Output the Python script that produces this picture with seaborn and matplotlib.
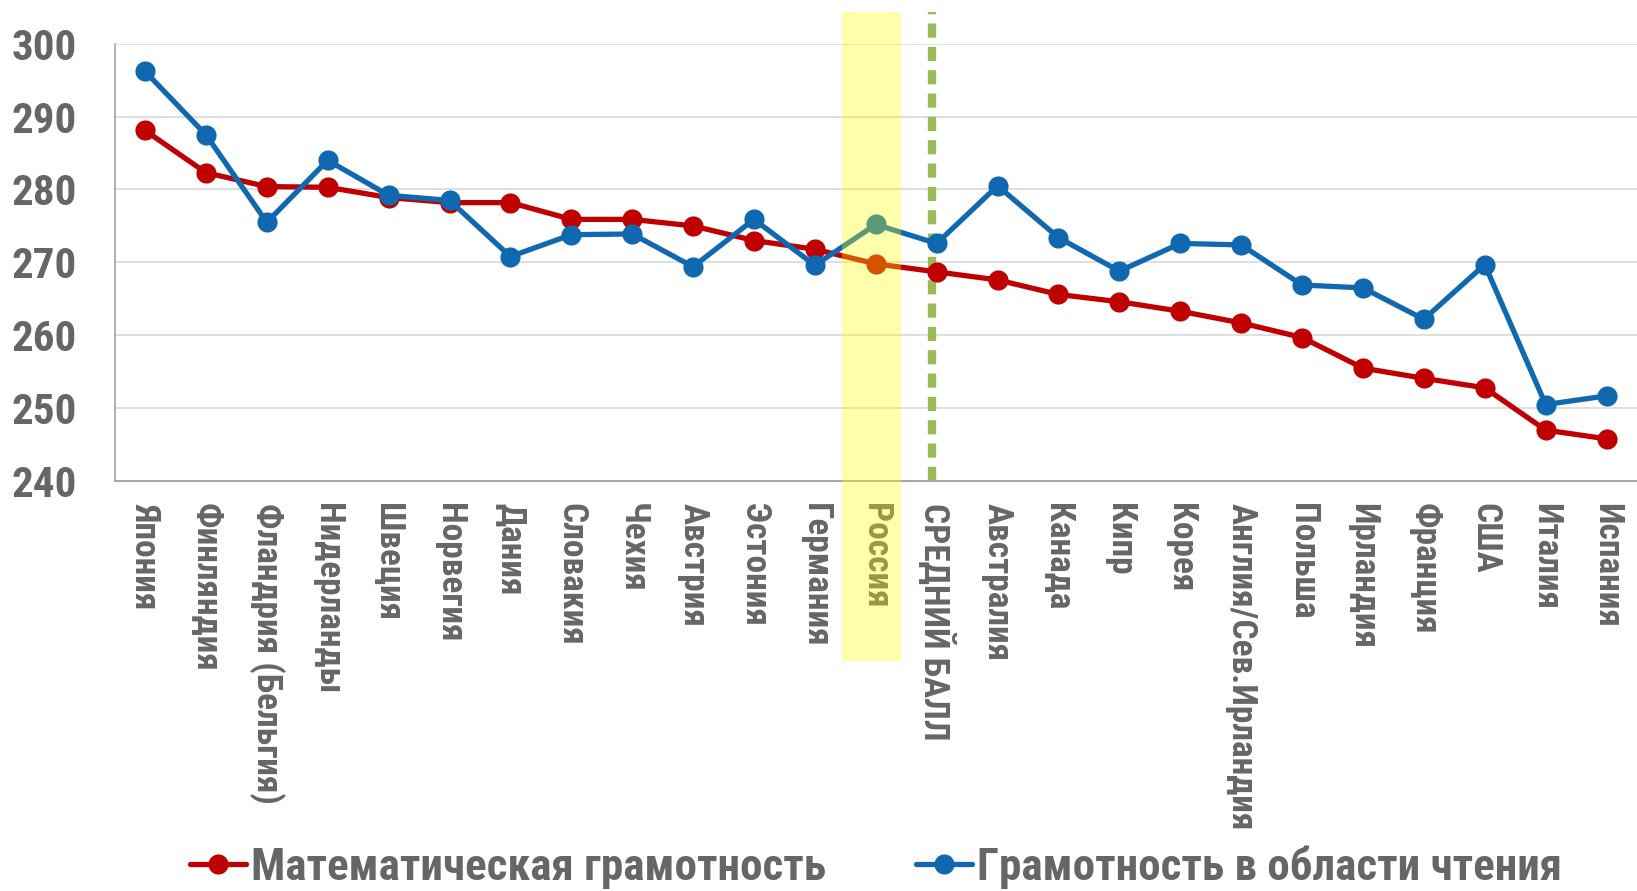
import numpy as np
import pandas as pd
import matplotlib
matplotlib.use('Agg')
import matplotlib.pyplot as plt
from matplotlib import font_manager
import seaborn as sns

# страны и баллы
countries = ['Япония', 'Финляндия', 'Фландрия (Бельгия)', 'Нидерланды', 'Швеция', 'Норвегия',
             'Дания', 'Словакия', 'Чехия', 'Австрия', 'Эстония', 'Германия', 'Россия',
             'СРЕДНИЙ БАЛЛ', 'Австралия', 'Канада', 'Кипр', 'Корея', 'Англия/Сев.Ирландия',
             'Польша', 'Ирландия', 'Франция', 'США', 'Италия', 'Испания']
math_scores = [288.1, 282.3, 280.4, 280.3, 278.9, 278.2, 278.2, 275.9, 275.9, 275.0, 273.0, 271.8,
               269.8, 268.7, 267.6, 265.6, 264.6, 263.3, 261.7, 259.7, 255.5, 254.1, 252.8, 247.0, 245.8]
read_scores = [296.2, 287.5, 275.5, 284.0, 279.2, 278.5, 270.8, 273.8, 273.9, 269.4, 275.9, 269.6,
               275.2, 272.6, 280.5, 273.4, 268.8, 272.6, 272.4, 266.9, 266.5, 262.2, 269.7, 250.5, 251.7]
series_names = ['Математическая грамотность', 'Грамотность в области чтения']
yticks = [240, 250, 260, 270, 280, 290, 300]

RED = '#C00000'
BLUE = '#1068B0'
GRAY = '#666666'

sns.set_style('white')
names = {f.name for f in font_manager.fontManager.ttflist}
fam = [f for f in ['Liberation Sans Narrow', 'Roboto Condensed', 'Liberation Sans'] if f in names][:1]
plt.rcParams['font.family'] = fam + ['DejaVu Sans']

df = pd.DataFrame({
    'country': countries * 2,
    'score': math_scores + read_scores,
    'series': [series_names[0]] * len(countries) + [series_names[1]] * len(countries),
})

fig = plt.figure(figsize=(16.37, 8.91), dpi=100)
ax = fig.add_axes([0.070, 0.460, 0.93, 0.491])

sns.lineplot(data=df, x='country', y='score', hue='series', palette=[RED, BLUE], sort=False,
             marker='o', markersize=14.5, markeredgewidth=0, linewidth=3.8, legend=False, ax=ax)
handles = list(ax.lines[:2])

ax.set_xlim(-0.5, len(countries) - 0.5)
ax.set_ylim(240, 300)
ax.set_yticks(yticks)
ax.yaxis.grid(True, color='#D9D9D9', linewidth=1.2)
ax.set_axisbelow(True)
ax.set_xlabel('')
ax.set_ylabel('')

for s in ['top', 'right']:
    ax.spines[s].set_visible(False)
ax.spines['left'].set_color('#A6A6A6')
ax.spines['bottom'].set_color('#A6A6A6')
ax.spines['left'].set_linewidth(1.2)
ax.spines['bottom'].set_linewidth(1.5)

# подписи по категориям, риски между ними
ax.set_xticks(range(len(countries)))
ax.set_xticklabels(countries, rotation=-90, ha='center', va='top', fontsize=25.5,
                   fontweight='bold', color=GRAY)
ax.set_xticks(np.arange(-0.5, len(countries), 1), minor=True)
ax.tick_params(axis='x', which='major', length=0, pad=16)
ax.tick_params(axis='x', which='minor', length=10, width=1.2, color='#A6A6A6')
ax.tick_params(axis='y', length=8, width=1.2, color='#A6A6A6', pad=19)
for t in ax.get_yticklabels():
    t.set_fontsize(31)
    t.set_fontweight('bold')
    t.set_color(GRAY)

# средний балл - пунктир, Россия - жёлтая подсветка
ax.axvline(12.92, ymin=0, ymax=1.072, color='#9BBB59', linewidth=6,
           linestyle=(0, (1.7, 1.1)), clip_on=False, zorder=1.5)
ax.axvspan(11.45, 12.42, ymin=-0.41, ymax=1.072, color='#FFFF00', alpha=0.33,
           linewidth=0, clip_on=False, zorder=5)

fig.legend(handles, series_names, loc='center', bbox_to_anchor=(0.535, 0.027), ncol=2,
           frameon=False, handlelength=1.25, handletextpad=0.1, columnspacing=2.0,
           prop={'size': 32.5, 'weight': 'bold'}, labelcolor=GRAY)

fig.savefig('out.png', dpi=100)
